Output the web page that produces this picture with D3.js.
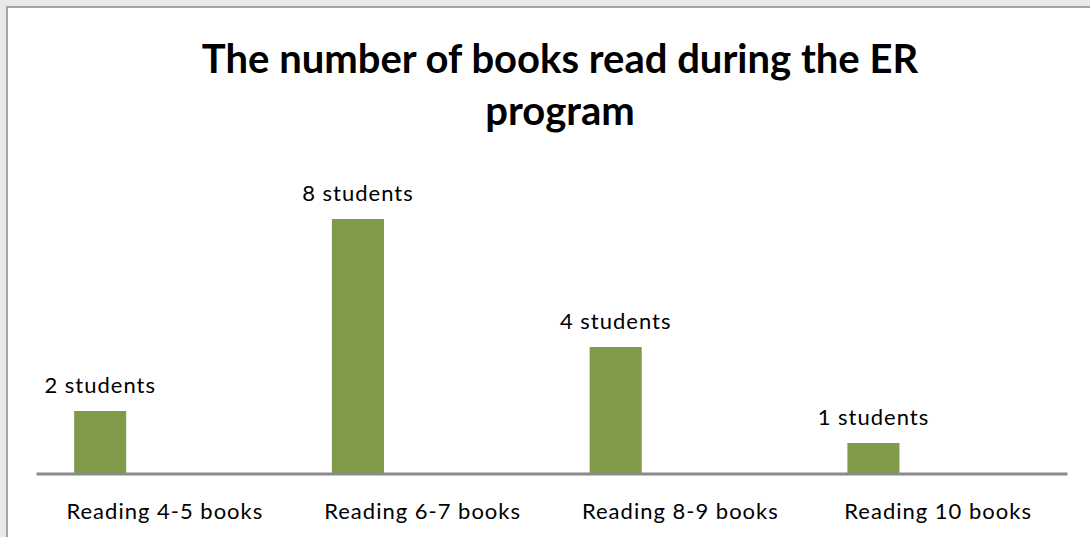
<!DOCTYPE html>
<html>
<head>
<meta charset="utf-8">
<script src="https://cdn.jsdelivr.net/npm/d3@7/dist/d3.min.js"></script>
<style>
  html, body { margin: 0; padding: 0; background: #e9e9e9; }
  svg { display: block; }
  text { font-family: Lato, "Open Sans", sans-serif; fill: #000; }
</style>
</head>
<body>
<script>
// Chart data
const categories = ["Reading 4-5 books", "Reading 6-7 books", "Reading 8-9 books", "Reading 10 books"];
const students = [2, 8, 4, 1];
const valueLabels = ["2 students", "8 students", "4 students", "1 students"];
const titleLines = ["The number of books read during the ER", "program"];

const W = 1090, H = 537;
const svg = d3.select("body").append("svg").attr("width", W).attr("height", H);

// chart area with a frame on the top and left edges
svg.append("rect").attr("x", 7).attr("y", 7).attr("width", W).attr("height", H)
  .attr("fill", "#fff").attr("stroke", "#8a8a8a").attr("stroke-width", 1.5);

// title
svg.append("g").selectAll("text").data(titleLines).join("text")
  .attr("x", 560).attr("y", (d, i) => 73 + i * 52)
  .attr("text-anchor", "middle")
  .attr("font-weight", "bold").attr("font-size", 40)
  .text(d => d);

const x = d3.scaleBand().domain(categories).range([36, 1067]).paddingInner(0).paddingOuter(0);
const y = d3.scaleLinear().domain([0, 8]).range([475, 219]);

const barOffset = x.bandwidth() * 0.148;
const barWidth = x.bandwidth() * 0.202;

const data = categories.map((c, i) => ({ c, v: students[i], label: valueLabels[i] }));

// bars
svg.append("g").selectAll("rect").data(data).join("rect")
  .attr("x", d => x(d.c) + barOffset)
  .attr("y", d => y(d.v))
  .attr("width", barWidth)
  .attr("height", d => y(0) - y(d.v))
  .attr("fill", "#7f9a48");

// value labels above bars
svg.append("g").selectAll("text").data(data).join("text")
  .attr("x", d => x(d.c) + barOffset + barWidth / 2)
  .attr("y", d => y(d.v) - 18)
  .attr("text-anchor", "middle")
  .attr("font-size", 22)
  .attr("letter-spacing", 1)
  .text(d => d.label);

// category axis
const axis = svg.append("g").attr("transform", `translate(0,${y(0) - 1.5})`)
  .call(d3.axisBottom(x).tickSize(0).tickPadding(30));
axis.select(".domain").attr("stroke", "#8a8a8a").attr("stroke-width", 3);
axis.selectAll(".tick text")
  .attr("font-size", 22)
  .attr("letter-spacing", 1)
  .attr("font-family", "Lato, 'Open Sans', sans-serif")
  .attr("fill", "#000");
</script>
</body>
</html>
